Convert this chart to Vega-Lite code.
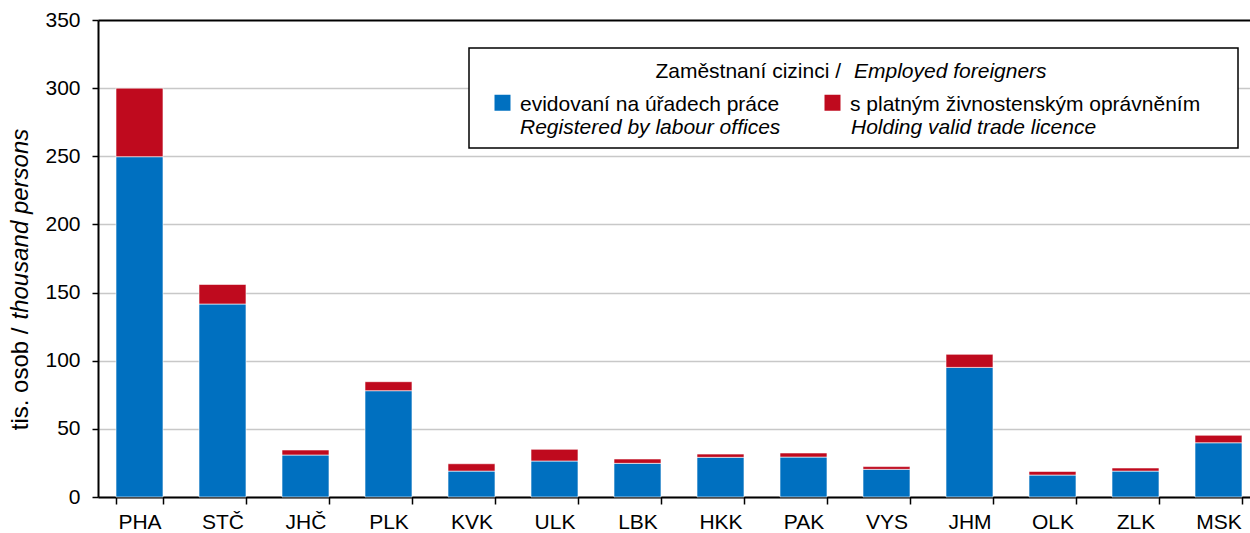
{
  "$schema": "https://vega.github.io/schema/vega-lite/v6.json",
  "width": 1152,
  "height": 477,
  "autosize": {"type": "none"},
  "padding": {"left": 98, "top": 20, "right": 0, "bottom": 36},
  "background": "white",
  "config": {
    "font": "Liberation Sans",
    "view": {"stroke": null},
    "legend": {
      "orient": "none", "legendY": 28, "direction": "horizontal", "columns": 2,
      "padding": 13, "titlePadding": 18, "titleFontSize": 21, "titleFontWeight": "normal",
      "titleColor": "black", "titleLimit": 0, "strokeWidth": 1.5,
      "symbolType": "M-1,-2H1V0H-1Z", "symbolSize": 256, "symbolOffset": 10, "symbolStrokeWidth": 0,
      "labelOffset": 7, "labelFontSize": 21, "labelColor": "black", "labelBaseline": "alphabetic",
      "labelLimit": 0, "columnPadding": 32
    }
  },
  "data": {
    "values": [
      {"kraj": "PHA", "cz": "evidovaní na úřadech práce", "en": "Registered by labour offices", "tis": 249.7},
      {"kraj": "PHA", "cz": "s platným živnostenským oprávněním", "en": "Holding valid trade licence", "tis": 50.3},
      {"kraj": "STČ", "cz": "evidovaní na úřadech práce", "en": "Registered by labour offices", "tis": 141.6},
      {"kraj": "STČ", "cz": "s platným živnostenským oprávněním", "en": "Holding valid trade licence", "tis": 14.4},
      {"kraj": "JHČ", "cz": "evidovaní na úřadech práce", "en": "Registered by labour offices", "tis": 30.8},
      {"kraj": "JHČ", "cz": "s platným živnostenským oprávněním", "en": "Holding valid trade licence", "tis": 3.7},
      {"kraj": "PLK", "cz": "evidovaní na úřadech práce", "en": "Registered by labour offices", "tis": 78.0},
      {"kraj": "PLK", "cz": "s platným živnostenským oprávněním", "en": "Holding valid trade licence", "tis": 6.6},
      {"kraj": "KVK", "cz": "evidovaní na úřadech práce", "en": "Registered by labour offices", "tis": 19.0},
      {"kraj": "KVK", "cz": "s platným živnostenským oprávněním", "en": "Holding valid trade licence", "tis": 5.4},
      {"kraj": "ULK", "cz": "evidovaní na úřadech práce", "en": "Registered by labour offices", "tis": 26.4},
      {"kraj": "ULK", "cz": "s platným živnostenským oprávněním", "en": "Holding valid trade licence", "tis": 8.6},
      {"kraj": "LBK", "cz": "evidovaní na úřadech práce", "en": "Registered by labour offices", "tis": 24.7},
      {"kraj": "LBK", "cz": "s platným živnostenským oprávněním", "en": "Holding valid trade licence", "tis": 3.2},
      {"kraj": "HKK", "cz": "evidovaní na úřadech práce", "en": "Registered by labour offices", "tis": 29.1},
      {"kraj": "HKK", "cz": "s platným živnostenským oprávněním", "en": "Holding valid trade licence", "tis": 2.4},
      {"kraj": "PAK", "cz": "evidovaní na úřadech práce", "en": "Registered by labour offices", "tis": 29.3},
      {"kraj": "PAK", "cz": "s platným živnostenským oprávněním", "en": "Holding valid trade licence", "tis": 3.0},
      {"kraj": "VYS", "cz": "evidovaní na úřadech práce", "en": "Registered by labour offices", "tis": 20.3},
      {"kraj": "VYS", "cz": "s platným živnostenským oprávněním", "en": "Holding valid trade licence", "tis": 2.0},
      {"kraj": "JHM", "cz": "evidovaní na úřadech práce", "en": "Registered by labour offices", "tis": 95.1},
      {"kraj": "JHM", "cz": "s platným živnostenským oprávněním", "en": "Holding valid trade licence", "tis": 9.6},
      {"kraj": "OLK", "cz": "evidovaní na úřadech práce", "en": "Registered by labour offices", "tis": 16.1},
      {"kraj": "OLK", "cz": "s platným živnostenským oprávněním", "en": "Holding valid trade licence", "tis": 2.7},
      {"kraj": "ZLK", "cz": "evidovaní na úřadech práce", "en": "Registered by labour offices", "tis": 19.0},
      {"kraj": "ZLK", "cz": "s platným živnostenským oprávněním", "en": "Holding valid trade licence", "tis": 2.3},
      {"kraj": "MSK", "cz": "evidovaní na úřadech práce", "en": "Registered by labour offices", "tis": 39.8},
      {"kraj": "MSK", "cz": "s platným živnostenským oprávněním", "en": "Holding valid trade licence", "tis": 5.5}
    ]
  },
  "layer": [
    {
      "mark": {"type": "bar", "stroke": "white"},
      "encoding": {
        "x": {
          "field": "kraj", "type": "nominal", "sort": null,
          "scale": {"range": [0, 1162], "paddingInner": 0.434, "paddingOuter": 0.217},
          "axis": {
            "title": null, "labelAngle": 0, "labelFontSize": 21, "labelColor": "black",
            "labelPadding": 7, "tickBand": "extent", "tickSize": 7, "tickColor": "black",
            "tickWidth": 1.5, "domainColor": "black", "domainWidth": 2, "grid": false
          }
        },
        "y": {
          "field": "tis", "type": "quantitative", "stack": "zero",
          "scale": {"domain": [0, 350]},
          "axis": {
            "values": [0, 50, 100, 150, 200, 250, 300, 350],
            "title": "tis. osob /", "titleFontSize": 24, "titleFontWeight": "normal",
            "titleColor": "black", "titleAngle": 270, "titleAlign": "right",
            "titleBaseline": "middle", "titleX": -78, "titleY": 307,
            "labelFontSize": 21, "labelColor": "black", "labelPadding": 12,
            "tickSize": 6, "tickColor": "black", "tickWidth": 1.5,
            "domainColor": "black", "domainWidth": 2,
            "gridColor": {"condition": {"test": "datum.value === 350", "value": "black"}, "value": "#c8c8c8"},
            "gridWidth": {"condition": {"test": "datum.value === 350", "value": 2}, "value": 1.5}
          }
        },
        "color": {
          "field": "cz", "type": "nominal",
          "scale": {"domain": ["evidovaní na úřadech práce", "s platným živnostenským oprávněním"], "range": ["#0070C0", "#BF0A1E"]},
          "legend": {
            "legendX": 371, "zindex": 1,
            "title": "Zaměstnaní cizinci /", "titleAnchor": "middle", "titleAlign": "right"
          }
        },
        "strokeWidth": {
          "field": "cz", "type": "ordinal",
          "scale": {"range": [0.6, 0.6]},
          "legend": {
            "legendX": 371, "zindex": 0, "columnPadding": 681, "labelOffset": 0,
            "title": "Employed foreigners", "titleFontStyle": "italic",
            "titleAnchor": "middle", "titleAlign": "left",
            "strokeColor": "black", "fillColor": "white",
            "symbolType": "M-1,-2.375H1V2.8H-1Z",
            "symbolFillColor": "transparent", "symbolStrokeColor": "transparent",
            "labelExpr": "''"
          }
        },
        "opacity": {
          "field": "en", "type": "nominal",
          "scale": {"domain": ["Registered by labour offices", "Holding valid trade licence"], "range": [1, 1]},
          "legend": {
            "legendX": 371, "zindex": 2,
            "title": "x", "titleColor": "transparent",
            "symbolFillColor": "transparent", "symbolStrokeColor": "transparent",
            "labelFontStyle": "italic", "labelLineHeight": 25,
            "labelExpr": "['', datum.label]"
          }
        },
        "order": {"field": "cz", "sort": "ascending"}
      }
    },
    {
      "mark": {"type": "point", "opacity": 0},
      "encoding": {
        "x": {"field": "kraj", "type": "nominal", "sort": null},
        "y": {
          "field": "tis", "type": "quantitative",
          "scale": {"domain": [0, 350]},
          "axis": {
            "orient": "left", "title": "thousand persons", "titleFontStyle": "italic",
            "titleFontSize": 24, "titleFontWeight": "normal", "titleColor": "black",
            "titleAngle": 270, "titleAlign": "left", "titleBaseline": "middle",
            "titleX": -78, "titleY": 299,
            "labels": false, "ticks": false, "domain": false, "grid": false
          }
        }
      }
    }
  ],
  "resolve": {"scale": {"y": "independent"}}
}
